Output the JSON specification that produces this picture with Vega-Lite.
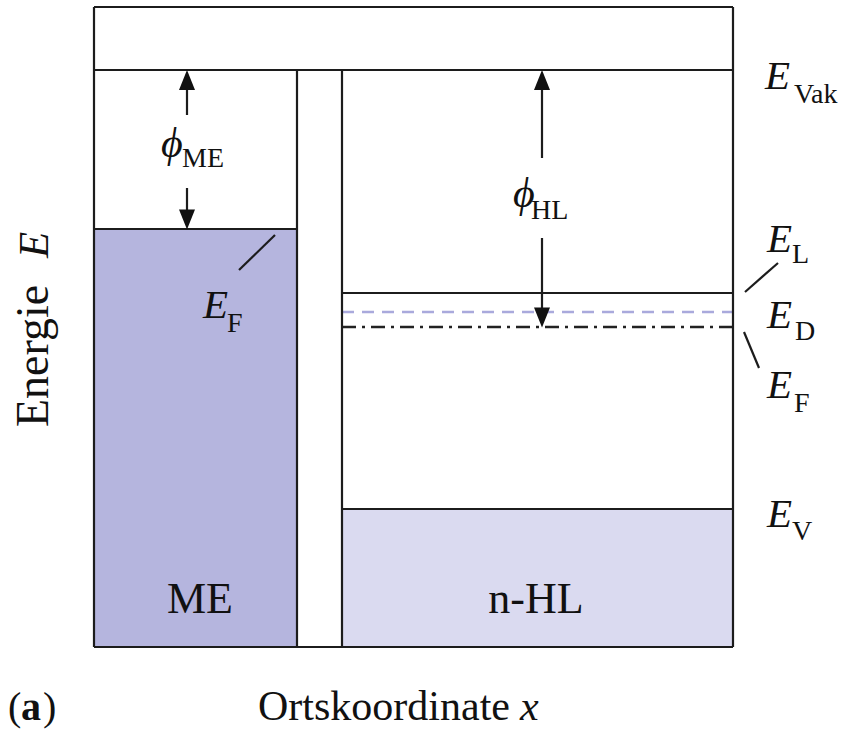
{
  "$schema": "https://vega.github.io/schema/vega-lite/v6.json",
  "width": 639,
  "height": 640,
  "autosize": {"type": "none"},
  "padding": {"left": 94, "top": 7, "right": 108, "bottom": 86},
  "background": "white",
  "config": {"view": {"stroke": null}, "text": {"font": "Liberation Serif", "color": "#111"}},
  "datasets": {
    "fills": [
      {"x": 0, "x2": 203, "y": 0, "y2": 418, "region": "ME"},
      {"x": 248, "x2": 639, "y": 0, "y2": 138, "region": "HL"}
    ],
    "solid": [
      {"x": 0, "x2": 639, "y": 640, "y2": 640},
      {"x": 0, "x2": 639, "y": 0, "y2": 0},
      {"x": 0, "x2": 0, "y": 0, "y2": 640},
      {"x": 639, "x2": 639, "y": 0, "y2": 640},
      {"x": 0, "x2": 639, "y": 577, "y2": 577},
      {"x": 0, "x2": 203, "y": 418, "y2": 418},
      {"x": 203, "x2": 203, "y": 0, "y2": 577},
      {"x": 248, "x2": 248, "y": 0, "y2": 577},
      {"x": 248, "x2": 639, "y": 354, "y2": 354},
      {"x": 248, "x2": 639, "y": 138, "y2": 138},
      {"x": 93, "x2": 93, "y": 570, "y2": 532},
      {"x": 93, "x2": 93, "y": 459, "y2": 425},
      {"x": 448, "x2": 448, "y": 570, "y2": 489},
      {"x": 448, "x2": 448, "y": 409, "y2": 326},
      {"x": 145, "x2": 181, "y": 377, "y2": 412},
      {"x": 651, "x2": 684, "y": 355, "y2": 384},
      {"x": 650, "x2": 665, "y": 315, "y2": 279}
    ],
    "ed": [{"x": 248, "x2": 639, "y": 335, "y2": 335}],
    "ef": [{"x": 248, "x2": 639, "y": 320, "y2": 320}],
    "up": [{"x": 93, "y": 567}, {"x": 448, "y": 567}],
    "down": [{"x": 93, "y": 427.5}, {"x": 448, "y": 329.5}],
    "mainE": [
      {"x": 671, "y": 558, "t": "E"},
      {"x": 673, "y": 395, "t": "E"},
      {"x": 673, "y": 319, "t": "E"},
      {"x": 673, "y": 249, "t": "E"},
      {"x": 673, "y": 120, "t": "E"},
      {"x": 109, "y": 329, "t": "E"}
    ],
    "phi": [
      {"x": 67, "y": 490, "t": "ϕ"},
      {"x": 419, "y": 440, "t": "ϕ"}
    ],
    "subs": [
      {"x": 700, "y": 544, "t": "Vak"},
      {"x": 698, "y": 384, "t": "L"},
      {"x": 701, "y": 307, "t": "D"},
      {"x": 700, "y": 235, "t": "F"},
      {"x": 698, "y": 107, "t": "V"},
      {"x": 133, "y": 315, "t": "F"},
      {"x": 88, "y": 480, "t": "ME"},
      {"x": 437, "y": 428, "t": "HL"}
    ],
    "regionLabels": [
      {"x": 106, "y": 34, "t": "ME"},
      {"x": 442, "y": 34, "t": "n-HL"}
    ],
    "xtitle": [{"x": 164, "y": -73, "t": "Ortskoordinate"}],
    "xvar": [{"x": 426, "y": -73, "t": "x"}],
    "ytitle": [{"x": -46, "y": 220, "t": "Energie"}],
    "yvar": [{"x": -46, "y": 389, "t": "E"}],
    "paren": [{"x": -86, "y": -73, "t": "("}, {"x": -51, "y": -73, "t": ")"}],
    "panel": [{"x": -73, "y": -73, "t": "a"}]
  },
  "encoding": {
    "x": {"field": "x", "type": "quantitative", "scale": {"domain": [0, 639], "nice": false, "zero": false}, "axis": null},
    "y": {"field": "y", "type": "quantitative", "scale": {"domain": [0, 640], "nice": false, "zero": false}, "axis": null}
  },
  "layer": [
    {
      "data": {"name": "fills"},
      "mark": {"type": "rect", "strokeWidth": 0},
      "encoding": {
        "x2": {"field": "x2"},
        "y2": {"field": "y2"},
        "color": {"field": "region", "type": "nominal", "scale": {"domain": ["ME", "HL"], "range": ["#b5b5de", "#dadaf0"]}, "legend": null}
      }
    },
    {
      "data": {"name": "ed"},
      "mark": {"type": "rule", "color": "#a9a9dc", "strokeWidth": 2.5, "strokeDash": [12, 8]},
      "encoding": {"x2": {"field": "x2"}, "y2": {"field": "y2"}}
    },
    {
      "data": {"name": "ef"},
      "mark": {"type": "rule", "color": "#222", "strokeWidth": 2.5, "strokeDash": [14, 6, 3, 6]},
      "encoding": {"x2": {"field": "x2"}, "y2": {"field": "y2"}}
    },
    {
      "data": {"name": "solid"},
      "mark": {"type": "rule", "color": "#1c1c1c", "strokeWidth": 2.2},
      "encoding": {"x2": {"field": "x2"}, "y2": {"field": "y2"}}
    },
    {
      "data": {"name": "up"},
      "mark": {"type": "point", "shape": "M0,-1L0.8,1L-0.8,1Z", "filled": true, "size": 400, "color": "#111", "opacity": 1, "strokeWidth": 0}
    },
    {
      "data": {"name": "down"},
      "mark": {"type": "point", "shape": "M0,1L0.8,-1L-0.8,-1Z", "filled": true, "size": 400, "color": "#111", "opacity": 1, "strokeWidth": 0}
    },
    {
      "data": {"name": "mainE"},
      "mark": {"type": "text", "font": "Liberation Serif", "fontStyle": "italic", "fontSize": 41, "align": "left", "baseline": "alphabetic"},
      "encoding": {"text": {"field": "t"}}
    },
    {
      "data": {"name": "phi"},
      "mark": {"type": "text", "font": "Liberation Serif", "fontStyle": "italic", "fontSize": 42, "align": "left", "baseline": "alphabetic"},
      "encoding": {"text": {"field": "t"}}
    },
    {
      "data": {"name": "subs"},
      "mark": {"type": "text", "font": "Liberation Serif", "fontSize": 28, "align": "left", "baseline": "alphabetic"},
      "encoding": {"text": {"field": "t"}}
    },
    {
      "data": {"name": "regionLabels"},
      "mark": {"type": "text", "font": "Liberation Serif", "fontSize": 44, "align": "center", "baseline": "alphabetic"},
      "encoding": {"text": {"field": "t"}}
    },
    {
      "data": {"name": "xtitle"},
      "mark": {"type": "text", "font": "Liberation Serif", "fontSize": 42, "align": "left", "baseline": "alphabetic"},
      "encoding": {"text": {"field": "t"}}
    },
    {
      "data": {"name": "xvar"},
      "mark": {"type": "text", "font": "Liberation Serif", "fontSize": 42, "fontStyle": "italic", "align": "left", "baseline": "alphabetic"},
      "encoding": {"text": {"field": "t"}}
    },
    {
      "data": {"name": "ytitle"},
      "mark": {"type": "text", "font": "Liberation Serif", "fontSize": 46, "angle": 270, "align": "left", "baseline": "alphabetic"},
      "encoding": {"text": {"field": "t"}}
    },
    {
      "data": {"name": "yvar"},
      "mark": {"type": "text", "font": "Liberation Serif", "fontSize": 43, "fontStyle": "italic", "angle": 270, "align": "left", "baseline": "alphabetic"},
      "encoding": {"text": {"field": "t"}}
    },
    {
      "data": {"name": "paren"},
      "mark": {"type": "text", "font": "Liberation Serif", "fontSize": 40, "align": "left", "baseline": "alphabetic"},
      "encoding": {"text": {"field": "t"}}
    },
    {
      "data": {"name": "panel"},
      "mark": {"type": "text", "font": "Liberation Serif", "fontSize": 40, "fontWeight": "bold", "align": "left", "baseline": "alphabetic"},
      "encoding": {"text": {"field": "t"}}
    }
  ]
}
